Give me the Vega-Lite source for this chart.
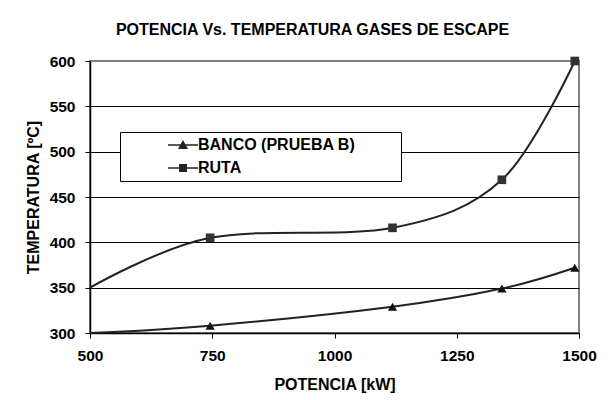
{
  "$schema": "https://vega.github.io/schema/vega-lite/v6.json",
  "width": 489,
  "height": 272,
  "autosize": "none",
  "padding": {"left": 90, "top": 61, "right": 34, "bottom": 67},
  "background": "white",
  "title": {
    "text": "POTENCIA Vs. TEMPERATURA GASES DE ESCAPE",
    "font": "Liberation Sans",
    "fontSize": 16,
    "fontWeight": "bold",
    "color": "black",
    "anchor": "middle",
    "dx": -22,
    "offset": 16
  },
  "data": {
    "values": [
      {"serie": "BANCO (PRUEBA B)", "potencia": 500, "temp": 300},
      {"serie": "BANCO (PRUEBA B)", "potencia": 745.7, "temp": 308},
      {"serie": "BANCO (PRUEBA B)", "potencia": 1118.6, "temp": 329},
      {"serie": "BANCO (PRUEBA B)", "potencia": 1342.3, "temp": 349},
      {"serie": "BANCO (PRUEBA B)", "potencia": 1491.4, "temp": 372},
      {"serie": "RUTA", "potencia": 500, "temp": 350},
      {"serie": "RUTA", "potencia": 745.7, "temp": 405},
      {"serie": "RUTA", "potencia": 1118.6, "temp": 416},
      {"serie": "RUTA", "potencia": 1342.3, "temp": 469},
      {"serie": "RUTA", "potencia": 1491.4, "temp": 600}
    ]
  },
  "encoding": {
    "x": {
      "field": "potencia",
      "type": "quantitative",
      "scale": {"domain": [500, 1500], "nice": false, "zero": false},
      "axis": {
        "values": [500, 750, 1000, 1250, 1500],
        "format": "d",
        "title": "POTENCIA [kW]",
        "grid": false,
        "domainColor": "black",
        "domainWidth": 1.5,
        "tickColor": "black",
        "tickSize": 5,
        "labelFont": "Liberation Sans",
        "labelFontSize": 15.5,
        "labelFontWeight": "bold",
        "labelColor": "black",
        "labelPadding": 10,
        "labelFlush": false,
        "titleFont": "Liberation Sans",
        "titleFontSize": 16,
        "titleFontWeight": "bold",
        "titleColor": "black",
        "titlePadding": 13
      }
    },
    "y": {
      "field": "temp",
      "type": "quantitative",
      "scale": {"domain": [300, 600], "nice": false, "zero": false},
      "axis": {
        "values": [300, 350, 400, 450, 500, 550, 600],
        "title": "TEMPERATURA [ºC]",
        "grid": true,
        "gridColor": {"condition": {"test": "datum.value == 600", "value": "#808080"}, "value": "black"},
        "gridOpacity": 1,
        "domainColor": "black",
        "domainWidth": 1.5,
        "tickColor": "black",
        "tickSize": 5,
        "labelFont": "Liberation Sans",
        "labelFontSize": 15.5,
        "labelFontWeight": "bold",
        "labelColor": "black",
        "labelPadding": 10,
        "labelFlush": false,
        "titleFont": "Liberation Sans",
        "titleFontSize": 16,
        "titleFontWeight": "bold",
        "titleColor": "black",
        "titlePadding": 8
      }
    }
  },
  "layer": [
    {
      "mark": {"type": "line", "interpolate": "cardinal", "strokeWidth": 2, "color": "#222222"},
      "encoding": {
        "detail": {"field": "serie"}
      }
    },
    {
      "transform": [{"filter": "datum.potencia > 500 && datum.serie == 'BANCO (PRUEBA B)'"}],
      "mark": {"type": "point", "filled": true, "opacity": 1, "color": "#111111", "shape": "triangle-up", "size": 85},
      "encoding": {}
    },
    {
      "transform": [{"filter": "datum.potencia > 500 && datum.serie == 'RUTA'"}],
      "mark": {"type": "point", "filled": true, "opacity": 1, "color": "#333333", "shape": "square", "size": 75},
      "encoding": {}
    },
    {
      "transform": [{"filter": "datum.potencia > 500"}],
      "mark": {"type": "point", "filled": true, "opacity": 0, "color": "#222222"},
      "encoding": {
        "shape": {
          "field": "serie",
          "type": "nominal",
          "scale": {
            "domain": ["BANCO (PRUEBA B)", "RUTA"],
            "range": ["M-3,-0.16H3V0.16H-3ZM0,-1L1,0.8H-1Z", "M-3,-0.16H3V0.16H-3ZM-0.8,-0.8H0.8V0.8H-0.8Z"]
          },
          "legend": {
            "title": "\u00a0",
            "titleOrient": "right",
            "titlePadding": 41,
            "titleFontSize": 16,
            "orient": "none",
            "legendX": 30,
            "legendY": 71,
            "strokeColor": "black",
            "fillColor": "white",
            "padding": 5,
            "symbolSize": 100,
            "symbolOpacity": 1,
            "symbolFillColor": "#222222",
            "symbolStrokeColor": "#222222",
            "symbolStrokeWidth": 1.5,
            "symbolOffset": 50,
            "labelFont": "Liberation Sans",
            "labelFontSize": 16,
            "labelFontWeight": "bold",
            "labelColor": "black",
            "labelOffset": 7,
            "rowPadding": 7
          }
        }
      }
    }
  ],
  "config": {
    "view": {"stroke": "#808080", "strokeWidth": 2}
  }
}
